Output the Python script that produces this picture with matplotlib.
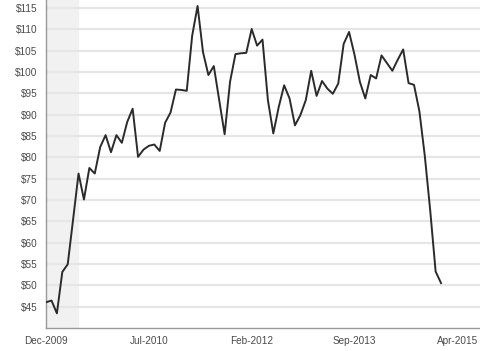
import matplotlib as mpl
mpl.use('Agg')
import matplotlib.pyplot as plt
import numpy as np

plt.rcParams['font.family'] = ['Liberation Sans', 'DejaVu Sans']

# price readings, one per sample point
prices = [46.0, 46.4, 43.4, 53.1, 54.9, 65.5, 76.2, 70.1, 77.5, 76.2,
          82.4, 85.2, 81.2, 85.2, 83.4, 88.3, 91.4, 80.1, 81.8, 82.7,
          83.0, 81.5, 88.1, 90.5, 95.9, 95.8, 95.6, 108.5, 115.5, 104.7,
          99.3, 101.4, 93.4, 85.4, 97.7, 104.2, 104.4, 104.5, 110.1, 106.2,
          107.6, 93.4, 85.6, 91.8, 96.9, 93.8, 87.5, 89.9, 93.4, 100.3,
          94.4, 97.9, 96.1, 94.9, 97.3, 106.6, 109.4, 104.1, 97.7, 93.8,
          99.3, 98.5, 103.9, 102.1, 100.3, 102.9, 105.3, 97.4, 97.0, 90.8,
          80.3, 67.5, 53.2, 50.5]
tick_labels = ['Dec-2009', 'Jul-2010', 'Feb-2012', 'Sep-2013', 'Apr-2015']
tick_pos = [0, 19, 38, 57, 76]
y_ticks = list(range(45, 120, 5))

x = np.arange(len(prices))

fig = plt.figure(figsize=(4.8, 3.51), dpi=100)
ax = fig.add_axes([0.096, 0.066, 0.904, 0.934])

ax.axvspan(0, 5.9, color='#f1f1f1', zorder=0)
for v in y_ticks:
    ax.axhline(v, color='#e6e6e6', lw=1.6, zorder=1)

ax.plot(x, prices, color='#2b2b2b', lw=1.4, zorder=3)

ax.set_xlim(0, 80.2)
ax.set_ylim(40, 116.9)
ax.set_yticks(y_ticks)
ax.set_yticklabels(['$%d' % v for v in y_ticks])
ax.set_xticks(tick_pos)
ax.set_xticklabels(tick_labels)
ax.tick_params(length=0, labelsize=7.2, labelcolor='#4a4a4a')
ax.tick_params(axis='x', pad=6)
ax.tick_params(axis='y', pad=6)

for s in ['top', 'right']:
    ax.spines[s].set_visible(False)
for s in ['left', 'bottom']:
    ax.spines[s].set_color('#999999')
    ax.spines[s].set_linewidth(1.0)

plt.savefig('out.png', dpi=100)
